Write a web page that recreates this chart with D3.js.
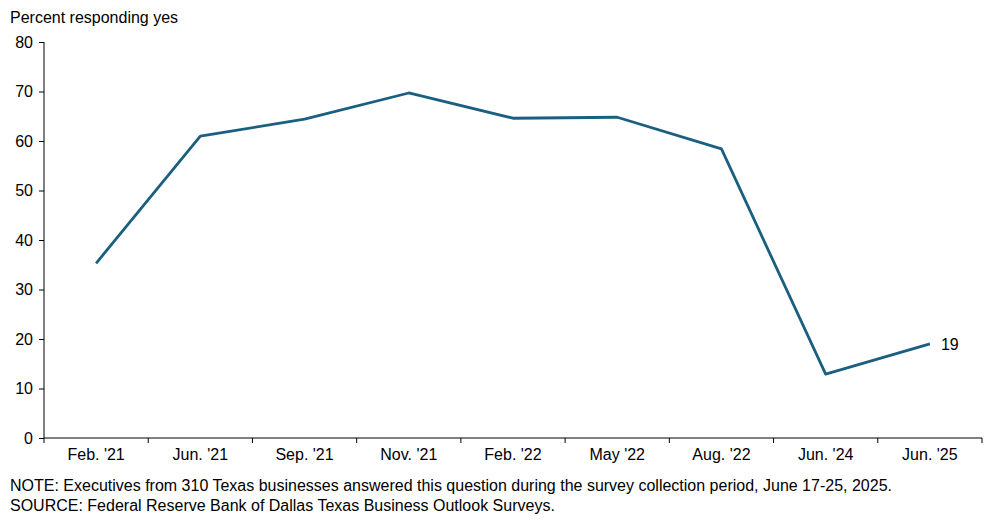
<!DOCTYPE html>
<html>
<head>
<meta charset="utf-8">
<script src="https://cdn.jsdelivr.net/npm/d3@7"></script>
<style>
  body { margin: 0; background: #fff; }
  svg { display: block; font-family: "Liberation Sans", Arial, sans-serif; }
</style>
</head>
<body>
<div id="chart"></div>
<script>
var categories = ["Feb. '21", "Jun. '21", "Sep. '21", "Nov. '21", "Feb. '22", "May '22", "Aug. '22", "Jun. '24", "Jun. '25"];
var values = [35.3, 61.0, 64.4, 69.7, 64.6, 64.8, 58.4, 12.9, 19.0];
var yTicks = [0, 10, 20, 30, 40, 50, 60, 70, 80];

var width = 997, height = 522;
var margin = {top: 42, right: 15, bottom: 84, left: 44};
var fs = "16px";

var svg = d3.select("#chart").append("svg")
    .attr("width", width)
    .attr("height", height);

var x = d3.scaleBand()
    .domain(categories)
    .range([margin.left, width - margin.right])
    .padding(0);

var y = d3.scaleLinear()
    .domain([0, 80])
    .range([height - margin.bottom, margin.top]);

// y axis
var yAxis = svg.append("g")
    .attr("transform", "translate(" + margin.left + ",0)")
    .call(d3.axisLeft(y).tickValues(yTicks).tickSize(5).tickPadding(6));
yAxis.selectAll("text").style("font-size", fs).attr("fill", "#000");
yAxis.selectAll("line,path").attr("stroke", "#000");
yAxis.select(".domain").attr("d", "M0," + y(80) + "V" + y(0));

// x axis, ticks between categories
var xAxis = svg.append("g")
    .attr("transform", "translate(0," + y(0) + ")")
    .call(d3.axisBottom(x).tickSize(0).tickPadding(11));
xAxis.selectAll("text").style("font-size", fs).attr("fill", "#000");
xAxis.select(".domain").attr("stroke", "#000").attr("d", "M" + margin.left + ",0H" + (width - margin.right));

var bounds = categories.map(function(c) { return x(c); }).concat([x(categories[categories.length - 1]) + x.bandwidth()]);
xAxis.selectAll(".sep")
    .data(bounds)
    .enter()
    .append("line")
    .attr("class", "sep")
    .attr("x1", function(d) { return d; })
    .attr("x2", function(d) { return d; })
    .attr("y1", 0)
    .attr("y2", 5)
    .attr("stroke", "#000");

// line
var line = d3.line()
    .x(function(d, i) { return x(categories[i]) + x.bandwidth() / 2; })
    .y(function(d) { return y(d); });

svg.append("path")
    .datum(values)
    .attr("fill", "none")
    .attr("stroke", "#1a5f80")
    .attr("stroke-width", 2.8)
    .attr("stroke-linejoin", "round")
    .attr("d", line);

// last value label
var last = values.length - 1;
svg.append("text")
    .attr("x", x(categories[last]) + x.bandwidth() / 2 + 11)
    .attr("y", y(values[last]))
    .attr("dy", "0.35em")
    .style("font-size", fs)
    .text(d3.format(".0f")(values[last]));

// titles and notes
svg.append("text")
    .attr("x", 10)
    .attr("y", 23)
    .style("font-size", fs)
    .text("Percent responding yes");

svg.append("text")
    .attr("x", 10)
    .attr("y", 491)
    .style("font-size", fs)
    .text("NOTE: Executives from 310 Texas businesses answered this question during the survey collection period, June 17-25, 2025.");

svg.append("text")
    .attr("x", 10)
    .attr("y", 511)
    .style("font-size", fs)
    .text("SOURCE: Federal Reserve Bank of Dallas Texas Business Outlook Surveys.");
</script>
</body>
</html>
